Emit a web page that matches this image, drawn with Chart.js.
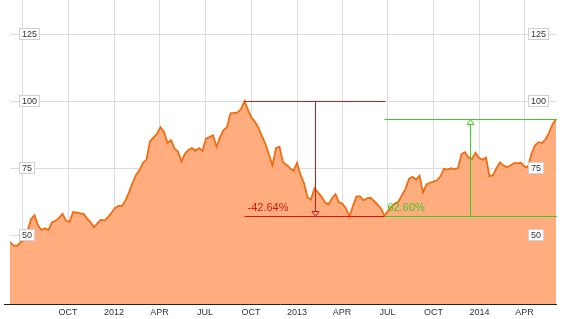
<!DOCTYPE html>
<html>
<head>
<meta charset="utf-8">
<script src="https://cdn.jsdelivr.net/npm/chart.js@4.4.1/dist/chart.umd.min.js"></script>
<style>
  html, body { margin: 0; padding: 0; background: #fff; }
  #wrap { width: 565px; height: 319px; }
</style>
</head>
<body>
<div id="wrap"><canvas id="graficoCotacao"></canvas></div>
<script>
// weekly closes, first week starting here
const startDate = '2011-06-07';
const weeklyValues = [
  47.5, 46.2, 46.0, 47.4, 48.2, 51.5, 56.0, 57.5, 53.7, 52.0,
  52.6, 52.0, 54.9, 55.4, 56.5, 58.0, 55.5, 55.0, 58.6, 58.5,
  58.2, 58.0, 56.3, 54.9, 53.0, 54.5, 55.8, 55.5, 56.8, 58.4,
  60.1, 61.0, 61.0, 63.0, 66.0, 69.5, 72.5, 74.3, 77.0, 78.2,
  85.0, 86.5, 87.8, 90.3, 88.5, 84.5, 85.5, 82.3, 81.2, 77.5,
  80.5, 81.8, 82.5, 81.5, 82.5, 81.5, 86.0, 86.6, 87.3, 83.0,
  86.6, 89.2, 90.3, 95.5, 95.6, 95.8, 97.0, 100.0, 96.8, 93.8,
  92.3, 90.0, 87.0, 84.0, 80.0, 76.0, 82.5, 83.0, 77.2, 76.3,
  75.0, 74.0, 77.0, 72.5, 69.4, 64.2, 63.3, 67.5, 66.0, 64.4,
  62.3, 61.5, 63.8, 65.3, 62.3, 61.8, 60.0, 57.0, 61.0, 64.5,
  64.5, 63.0, 63.8, 64.0, 62.8, 61.4, 60.0, 57.36, 59.0, 60.8,
  61.9, 62.6, 65.0, 67.3, 71.0, 71.8, 70.7, 72.2, 66.0, 69.0,
  69.6, 70.0, 70.5, 72.0, 74.8, 74.5, 75.0, 74.6, 75.0, 80.3,
  81.0, 79.0, 78.5, 80.8, 78.8, 78.2, 79.0, 72.0, 72.4, 75.0,
  77.2, 76.0, 75.4, 76.0, 76.9, 76.9, 77.0, 75.6, 75.4, 80.5,
  83.5, 84.7, 84.4, 85.8, 88.2, 91.3, 93.27
];
const yTicks = [50, 75, 100, 125];
const monthLabels = { 3: 'APR', 6: 'JUL', 9: 'OCT' };

// measured periods: from week / to week
const periodWeeks = [[67, 107], [107, 156]];
const periodLabels = ['-42.64%', '62.60%'];
const periodColors = ['#cc1a1a', '#3ccc28'];

const DAY = 86400000;
const t0 = Date.parse(startDate + 'T00:00:00Z');
const points = weeklyValues.map((v, i) => ({ x: t0 + i * 7 * DAY, y: v }));
const FONT = "'Liberation Sans', Arial, sans-serif";

const overlays = {
  id: 'overlays',
  afterDatasetsDraw(chart) {
    const { ctx, chartArea: a, scales: { x, y } } = chart;
    ctx.save();

    // eixo de baixo
    ctx.strokeStyle = '#222';
    ctx.lineWidth = 1;
    ctx.beginPath();
    ctx.moveTo(a.left - 6, Math.round(a.bottom) + 0.5);
    ctx.lineTo(a.right, Math.round(a.bottom) + 0.5);
    ctx.stroke();

    // periodos (queda e alta)
    periodWeeks.forEach(([i0, i1], k) => {
      const p0 = points[i0], p1 = points[i1];
      const x0 = x.getPixelForValue(p0.x), x1 = x.getPixelForValue(p1.x);
      const ya = y.getPixelForValue(p0.y), yb = y.getPixelForValue(p1.y);
      const top = Math.round(Math.min(ya, yb)) + 0.5;
      const bot = Math.round(Math.max(ya, yb)) + 0.5;
      const xm = Math.round((x0 + x1) / 2) + 0.5;
      const down = p1.y < p0.y;
      ctx.strokeStyle = periodColors[k];
      ctx.lineWidth = 1;
      ctx.beginPath();
      ctx.moveTo(x0, top); ctx.lineTo(x1 + 1, top);
      ctx.moveTo(x0, bot); ctx.lineTo(x1 + 1, bot);
      ctx.moveTo(xm, top); ctx.lineTo(xm, bot);
      ctx.stroke();
      // triangulo vazio
      ctx.beginPath();
      if (down) {
        ctx.moveTo(xm - 3.5, bot - 5); ctx.lineTo(xm + 3.5, bot - 5); ctx.lineTo(xm, bot);
      } else {
        ctx.moveTo(xm - 3.5, top + 5); ctx.lineTo(xm + 3.5, top + 5); ctx.lineTo(xm, top);
      }
      ctx.closePath();
      ctx.fillStyle = down ? '#ffad7f' : '#ffffff';
      ctx.fill();
      ctx.stroke();
      ctx.fillStyle = periodColors[k];
      ctx.font = '11px ' + FONT;
      ctx.textAlign = 'left';
      ctx.textBaseline = 'middle';
      ctx.fillText(periodLabels[k], x0 + 3, bot - 9);
    });

    // rotulos do eixo y nos dois lados
    ctx.font = '9px ' + FONT;
    ctx.textBaseline = 'middle';
    ctx.textAlign = 'left';
    yTicks.forEach(v => {
      const py = Math.round(y.getPixelForValue(v));
      const w = ctx.measureText(String(v)).width + 5;
      [a.left + 9.5, a.right - 28.5].forEach(bx => {
        ctx.fillStyle = '#fff';
        ctx.fillRect(bx, py - 5.5, w, 11);
        ctx.strokeStyle = '#d0d0d0';
        ctx.strokeRect(bx, py - 5.5, w, 11);
        ctx.fillStyle = '#333';
        ctx.fillText(String(v), bx + 2.5, py + 0.5);
      });
    });
    ctx.restore();
  }
};

new Chart(document.getElementById('graficoCotacao').getContext('2d'), {
  type: 'line',
  data: {
    datasets: [{
      data: points,
      borderColor: '#f06c10',
      backgroundColor: '#ffad7f',
      borderWidth: 1.8,
      fill: 'start',
      tension: 0,
      pointRadius: 0
    }]
  },
  options: {
    responsive: true,
    maintainAspectRatio: false,
    animation: false,
    parsing: false,
    layout: { padding: { left: 10, right: 8, top: 0, bottom: -2 } },
    plugins: { legend: { display: false }, tooltip: { enabled: false } },
    scales: {
      x: {
        type: 'linear',
        min: points[0].x,
        max: points[points.length - 1].x + 2 * DAY,
        afterBuildTicks(scale) {
          const ticks = [];
          const d = new Date(scale.min);
          let yr = d.getUTCFullYear(), m = Math.floor(d.getUTCMonth() / 3) * 3 + 3;
          while (Date.UTC(yr, m, 1) <= scale.max) {
            ticks.push({ value: Date.UTC(yr, m, 1) });
            m += 3;
            if (m >= 12) { m -= 12; yr++; }
          }
          scale.ticks = ticks;
        },
        ticks: {
          autoSkip: false,
          maxRotation: 0,
          padding: 4,
          color: '#333',
          font: { size: 9, family: FONT, lineHeight: 1 },
          callback(value) {
            if (value - this.min < 30 * DAY) return '';
            const d = new Date(value);
            const m = d.getUTCMonth();
            return m === 0 ? String(d.getUTCFullYear()) : monthLabels[m];
          }
        },
        grid: { color: '#dcdcdc', drawTicks: false },
        border: { display: false }
      },
      y: {
        min: 24.4,
        max: 137.7,
        afterBuildTicks(scale) {
          scale.ticks = yTicks.map(v => ({ value: v }));
        },
        ticks: { display: false },
        grid: { color: '#dcdcdc', drawTicks: false },
        border: { display: false }
      }
    }
  },
  plugins: [overlays]
});
</script>
</body>
</html>
